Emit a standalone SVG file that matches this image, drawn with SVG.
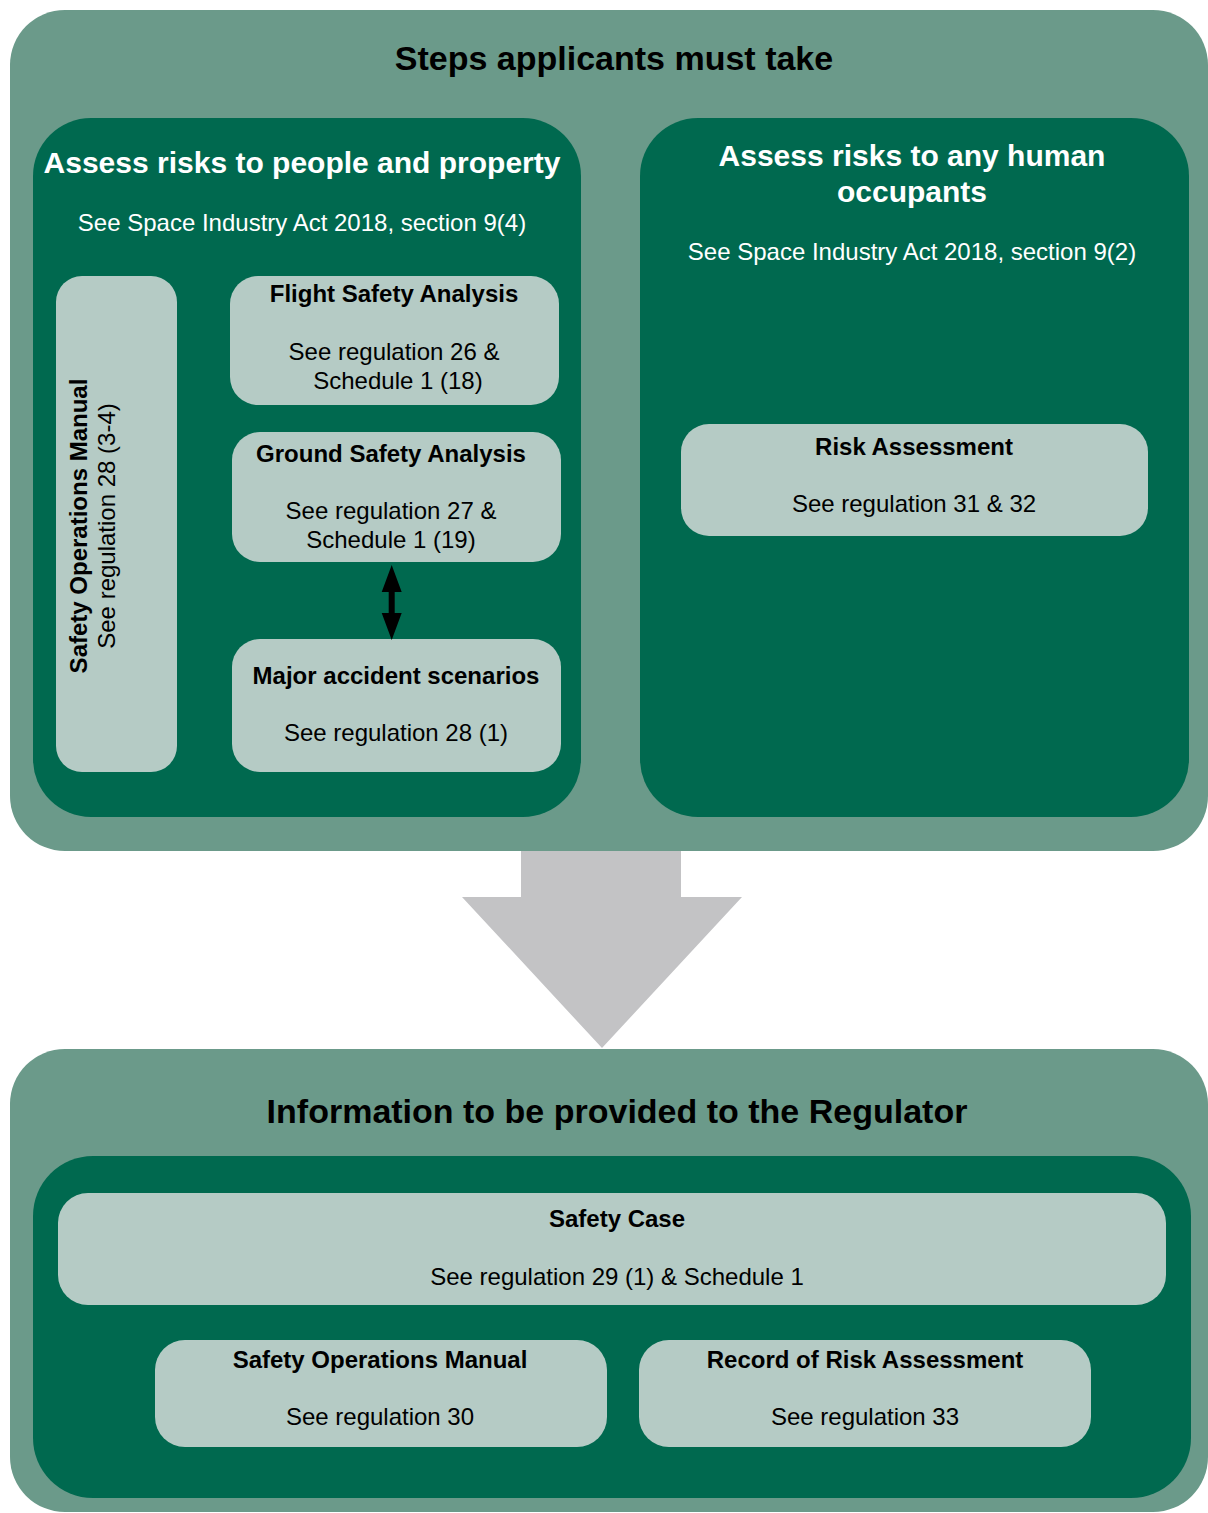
<svg xmlns="http://www.w3.org/2000/svg" width="1208" height="1513" viewBox="0 0 1208 1513">
  <style>
    .outer { fill: #6b9a8a; }
    .panel { fill: #00694f; }
    .card { fill: #b5cbc5; }
    text { font-family: "Liberation Sans", Arial, sans-serif; text-anchor: middle; }
    .h1 { font-size: 34px; font-weight: bold; fill: #000; }
    .h2 { font-size: 30px; font-weight: bold; fill: #fff; }
    .sub { font-size: 24px; fill: #fff; }
    .ttl { font-size: 24px; font-weight: bold; fill: #000; }
    .txt { font-size: 24px; fill: #000; }
  </style>
  <rect width="1208" height="1513" fill="#ffffff"/>

  <!-- Steps applicants must take -->
  <g id="steps">
    <rect class="outer" x="10" y="10" width="1198" height="841" rx="55"/>
    <text class="h1" x="614" y="70">Steps applicants must take</text>
  </g>

  <g id="people-property">
    <rect class="panel" x="33" y="118" width="548" height="699" rx="58"/>
    <text class="h2" x="302" y="173">Assess risks to people and property</text>
    <text class="sub" x="302" y="231">See Space Industry Act 2018, section 9(4)</text>
  </g>

  <g id="human-occupants">
    <rect class="panel" x="640" y="118" width="549" height="699" rx="58"/>
    <text class="h2" x="912" y="166">Assess risks to any human</text>
    <text class="h2" x="912" y="202">occupants</text>
    <text class="sub" x="912" y="260">See Space Industry Act 2018, section 9(2)</text>
  </g>

  <g id="safety-ops-manual-side">
    <rect class="card" x="56" y="276" width="121" height="496" rx="26"/>
    <text class="ttl" transform="translate(87 526) rotate(-90)">Safety Operations Manual</text>
    <text class="txt" transform="translate(115 526) rotate(-90)">See regulation 28 (3-4)</text>
  </g>

  <g id="flight-safety">
    <rect class="card" x="230" y="276" width="329" height="129" rx="28"/>
    <text class="ttl" x="394" y="302">Flight Safety Analysis</text>
    <text class="txt" x="394" y="360">See regulation 26 &amp;</text>
    <text class="txt" x="398" y="389">Schedule 1 (18)</text>
  </g>

  <g id="ground-safety">
    <rect class="card" x="232" y="432" width="329" height="130" rx="28"/>
    <text class="ttl" x="391" y="462">Ground Safety Analysis</text>
    <text class="txt" x="391" y="519">See regulation 27 &amp;</text>
    <text class="txt" x="391" y="548">Schedule 1 (19)</text>
  </g>

  <g id="major-accident">
    <rect class="card" x="232" y="639" width="329" height="133" rx="28"/>
    <text class="ttl" x="396" y="684">Major accident scenarios</text>
    <text class="txt" x="396" y="741">See regulation 28 (1)</text>
  </g>

  <g id="risk-assessment">
    <rect class="card" x="681" y="424" width="467" height="112" rx="28"/>
    <text class="ttl" x="914" y="455">Risk Assessment</text>
    <text class="txt" x="914" y="512">See regulation 31 &amp; 32</text>
  </g>

  <!-- Information to be provided to the Regulator -->
  <g id="information">
    <rect class="outer" x="10" y="1049" width="1198" height="463" rx="55"/>
    <text class="h1" x="617" y="1123">Information to be provided to the Regulator</text>
    <rect class="panel" x="33" y="1156" width="1158" height="342" rx="60"/>
  </g>

  <g id="safety-case">
    <rect class="card" x="58" y="1193" width="1108" height="112" rx="30"/>
    <text class="ttl" x="617" y="1227">Safety Case</text>
    <text class="txt" x="617" y="1285">See regulation 29 (1) &amp; Schedule 1</text>
  </g>

  <g id="safety-ops-manual">
    <rect class="card" x="155" y="1340" width="452" height="107" rx="30"/>
    <text class="ttl" x="380" y="1368">Safety Operations Manual</text>
    <text class="txt" x="380" y="1425">See regulation 30</text>
  </g>

  <g id="record-risk">
    <rect class="card" x="639" y="1340" width="452" height="107" rx="30"/>
    <text class="ttl" x="865" y="1368">Record of Risk Assessment</text>
    <text class="txt" x="865" y="1425">See regulation 33</text>
  </g>

  <g id="connectors">
    <!-- two-headed link between ground safety and major accident scenarios -->
    <polygon fill="#000" points="391.7,565 401.7,592 394.7,592 394.7,613 401.7,613 391.7,640 381.7,613 388.7,613 388.7,592 381.7,592"/>
    <!-- block arrow from the steps to the information -->
    <polygon fill="#c3c3c5" points="521,851 681,851 681,897 742,897 602,1048 462,897 521,897"/>
  </g>
</svg>
